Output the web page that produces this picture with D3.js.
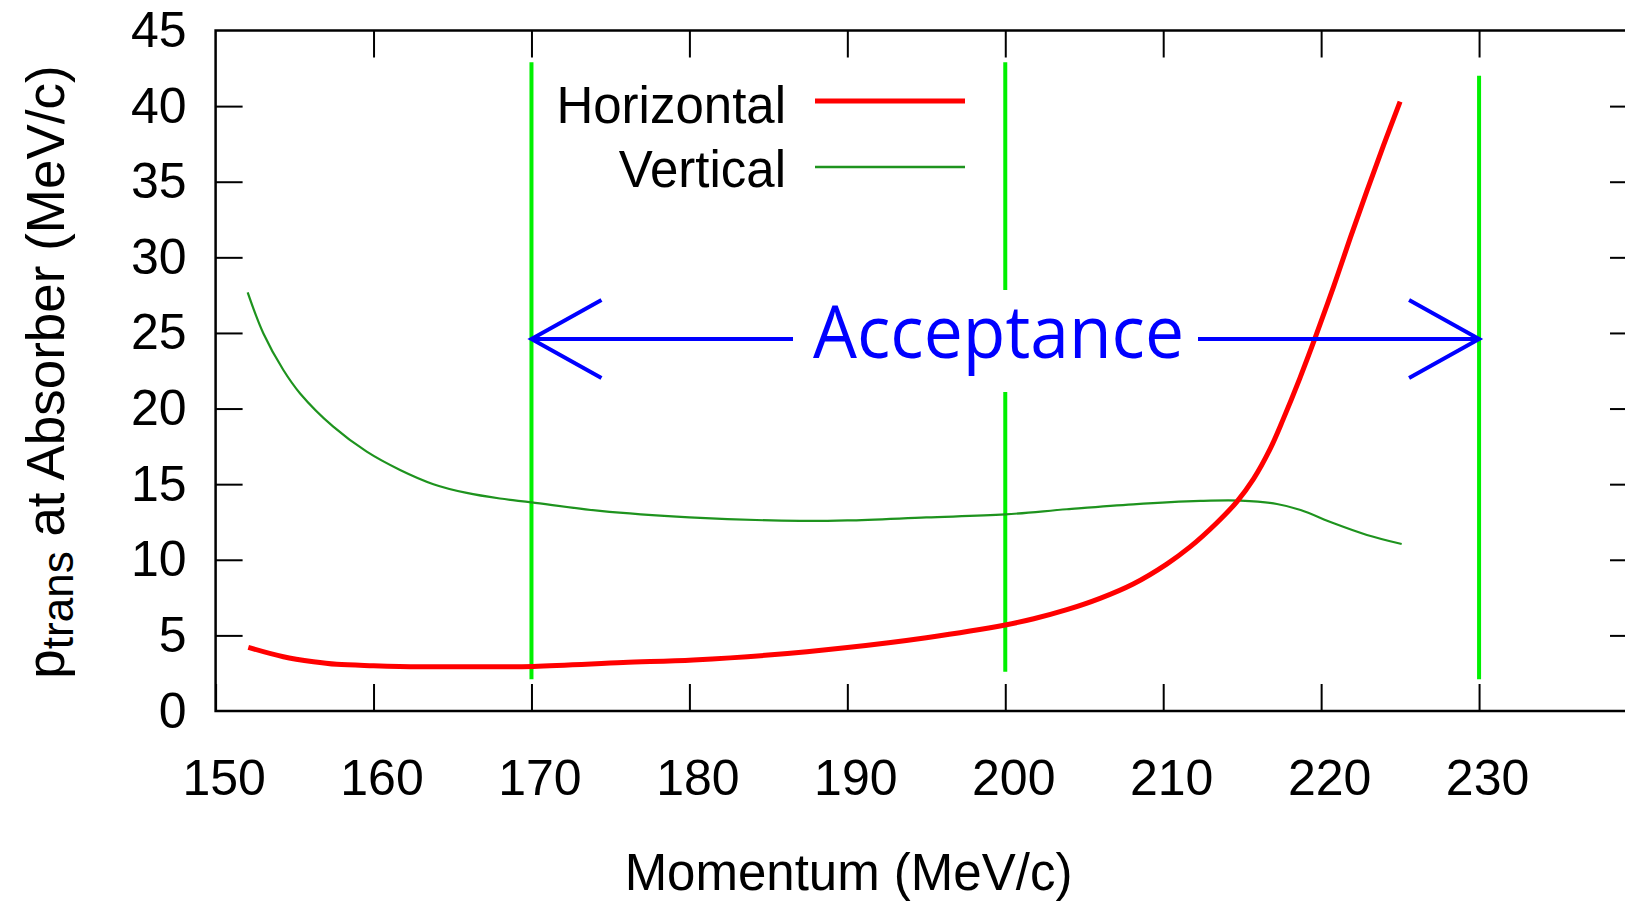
<!DOCTYPE html>
<html>
<head>
<meta charset="utf-8">
<script src="https://cdn.jsdelivr.net/npm/d3@7"></script>
<style>
  html, body { margin: 0; padding: 0; background: #fff; }
  svg { display: block; }
</style>
</head>
<body>
<svg id="chart" width="1625" height="902"></svg>
<script>
// ---- data ----
const xTicks = [150, 160, 170, 180, 190, 200, 210, 220, 230];
const yTicks = [0, 5, 10, 15, 20, 25, 30, 35, 40, 45];

const horizontalP = [152.07, 154.29, 156.2, 157.67, 160, 162.95, 166, 170.12, 175.8, 180.25, 185, 190, 195, 200, 201.8, 203.9, 206.0, 208.1, 210.2, 211.7, 213.4, 214.67, 215.72, 216.78, 217.6, 218.65, 219.7, 220.8, 221.85, 222.9, 223.95, 225.0];
const horizontalPt = [4.21, 3.59, 3.26, 3.09, 3.0, 2.93, 2.93, 2.95, 3.2, 3.38, 3.7, 4.2, 4.85, 5.69, 6.1, 6.7, 7.45, 8.4, 9.7, 10.85, 12.45, 13.85, 15.35, 17.35, 19.3, 22.0, 24.9, 28.1, 31.3, 34.4, 37.4, 40.3];

const verticalP = [152.03, 153.02, 154.29, 155.35, 157.45, 159.57, 161.68, 163.79, 165.9, 168.0, 170.0, 174.34, 180, 187, 190, 195, 200, 203.9, 208.1, 212.35, 214.9, 217.2, 218.7, 220.8, 222.9, 225.1];
const verticalPt = [27.68, 24.98, 22.55, 21.0, 18.8, 17.15, 15.94, 15.0, 14.42, 14.05, 13.8, 13.23, 12.81, 12.57, 12.6, 12.8, 13.0, 13.34, 13.67, 13.89, 13.91, 13.69, 13.29, 12.41, 11.64, 11.04];

// acceptance markers (momentum, from, to) in data units
const markerP = [170, 200, 230];
const markerFrom = [2.1, 2.6, 2.1];
const markerTo = [42.9, 42.9, 42.0];
const acceptanceFrom = 170, acceptanceTo = 230, acceptanceLevel = 24.6;
const acceptanceLabel = "Acceptance";
const seriesNames = ["Horizontal", "Vertical"];

// ---- layout ----
const svg = d3.select("#chart");
const L = 215.6, T = 30.5, R = 1637, B = 711;
const x = d3.scaleLinear().domain([150, 240]).range([L, R]);
const y = d3.scaleLinear().domain([0, 45]).range([B, T]);
const FONT = "'Liberation Sans', Arial, sans-serif";
const TICK = 27;

// vertical acceptance markers
const g = svg.append("g");
markerP.forEach((p, i) => {
  g.append("line")
    .attr("x1", x(p)).attr("x2", x(p))
    .attr("y1", y(markerFrom[i])).attr("y2", y(markerTo[i]))
    .attr("stroke", "#00f000").attr("stroke-width", 4);
});

// curves
const line = d3.line().x(d => x(d[0])).y(d => y(d[1])).curve(d3.curveCatmullRom.alpha(0.5));
g.append("path")
  .datum(verticalP.map((p, i) => [p, verticalPt[i]]))
  .attr("d", line).attr("fill", "none")
  .attr("stroke", "#1e931e").attr("stroke-width", 2.2);
g.append("path")
  .datum(horizontalP.map((p, i) => [p, horizontalPt[i]]))
  .attr("d", line).attr("fill", "none")
  .attr("stroke", "#ff0000").attr("stroke-width", 5);

// acceptance arrow
const ay = y(acceptanceLevel);
const blue = "#0000ff";
g.append("line").attr("x1", x(acceptanceFrom)).attr("x2", x(acceptanceTo))
  .attr("y1", ay).attr("y2", ay).attr("stroke", blue).attr("stroke-width", 4);
const wingDx = 70, wingDy = 39;
[[x(acceptanceFrom), 1], [x(acceptanceTo), -1]].forEach(([tx, dir]) => {
  g.append("path")
    .attr("d", `M${tx + dir * wingDx},${ay - wingDy} L${tx},${ay} L${tx + dir * wingDx},${ay + wingDy}`)
    .attr("fill", "none").attr("stroke", blue).attr("stroke-width", 4)
    .attr("stroke-linejoin", "miter");
});
const labelG = g.append("g");
const acc = labelG.append("text")
  .attr("x", 813).attr("y", 358.3)
  .attr("font-family", "'Open Sans', 'DejaVu Sans', sans-serif")
  .attr("font-size", 74)
  .attr("fill", blue)
  .attr("textLength", 371).attr("lengthAdjust", "spacingAndGlyphs")
  .text(acceptanceLabel);
const bb = acc.node().getBBox();
labelG.insert("rect", "text")
  .attr("x", bb.x - 20).attr("width", bb.width + 34)
  .attr("y", 290).attr("height", 102)
  .attr("fill", "#fff");

// axes (inward ticks on all four sides)
function styleAxis(sel) {
  sel.select(".domain").remove();
  sel.selectAll(".tick line").attr("stroke", "#000").attr("stroke-width", 2);
  sel.selectAll("text").attr("font-family", FONT).attr("font-size", 50).attr("fill", "#000");
}
const ax = svg.append("g").attr("transform", `translate(0,${B})`)
  .call(d3.axisBottom(x).tickValues(xTicks).tickSizeInner(-TICK).tickSizeOuter(0).tickPadding(48.5).tickFormat(d3.format("d")));
styleAxis(ax);
ax.selectAll("text").attr("dx", 8);

const axT = svg.append("g").attr("transform", `translate(0,${T})`)
  .call(d3.axisTop(x).tickValues(xTicks.slice(1)).tickSizeInner(-TICK).tickSizeOuter(0).tickFormat(""));
styleAxis(axT);

const ayAxis = svg.append("g").attr("transform", `translate(${L},0)`)
  .call(d3.axisLeft(y).tickValues(yTicks).tickSizeInner(-TICK).tickSizeOuter(0).tickPadding(29).tickFormat(d3.format("d")));
styleAxis(ayAxis);
ayAxis.selectAll(".tick").filter(d => d === 0 || d === 45).select("line").remove();

const ayR = svg.append("g").attr("transform", `translate(${R},0)`)
  .call(d3.axisRight(y).tickValues(yTicks.slice(1, -1)).tickSizeInner(-TICK).tickSizeOuter(0).tickFormat(""));
styleAxis(ayR);

// frame
svg.append("rect").attr("x", L).attr("y", T).attr("width", R - L).attr("height", B - T)
  .attr("fill", "none").attr("stroke", "#000").attr("stroke-width", 2.5);

// legend
const legY = [101, 167];
const legText = [123, 187];
const legColor = ["#ff0000", "#1e931e"];
const legWidth = [5, 2.5];
seriesNames.forEach((name, i) => {
  svg.append("text").attr("x", 786).attr("y", legText[i])
    .attr("text-anchor", "end").attr("font-family", FONT).attr("font-size", 51)
    .attr("fill", "#000").text(name);
  svg.append("line").attr("x1", 815).attr("x2", 965)
    .attr("y1", legY[i]).attr("y2", legY[i])
    .attr("stroke", legColor[i]).attr("stroke-width", legWidth[i]);
});

// axis titles
svg.append("text").attr("x", 848.5).attr("y", 890)
  .attr("text-anchor", "middle").attr("font-family", FONT).attr("font-size", 51)
  .attr("fill", "#000").text("Momentum (MeV/c)");

const yl = svg.append("text")
  .attr("transform", "translate(64,372) rotate(-90)")
  .attr("text-anchor", "middle").attr("font-family", FONT).attr("font-size", 53)
  .attr("fill", "#000");
yl.append("tspan").text("p");
yl.append("tspan").attr("font-size", 44).attr("dy", 9).text("trans");
yl.append("tspan").attr("dy", -9).text(" at Absorber (MeV/c)");
</script>
</body>
</html>
